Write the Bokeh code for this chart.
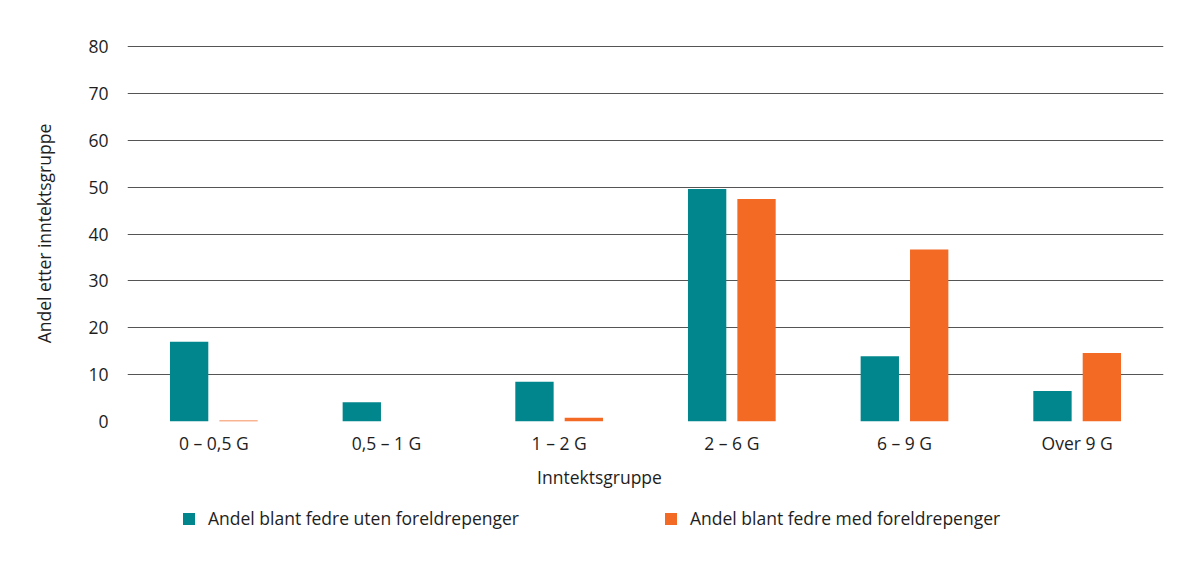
from bokeh.plotting import figure
from bokeh.models import ColumnDataSource, FactorRange, Legend, LegendItem, Label, FixedTicker, Range1d
from bokeh.layouts import column
from bokeh.transform import dodge
from bokeh.embed import file_html
from bokeh.resources import INLINE

categories = ["0 – 0,5 G", "0,5 – 1 G", "1 – 2 G", "2 – 6 G", "6 – 9 G", "Over 9 G"]
uten = [17.0, 4.1, 8.5, 49.6, 13.9, 6.5]
med = [0.2, 0.0, 0.8, 47.5, 36.7, 14.6]
series_names = ["Andel blant fedre uten foreldrepenger", "Andel blant fedre med foreldrepenger"]
y_ticks = [0, 10, 20, 30, 40, 50, 60, 70, 80]
x_title = "Inntektsgruppe"
y_title = "Andel etter inntektsgruppe"

TEAL = "#00868C"
ORANGE = "#F26A24"
FONT = "Open Sans"
TXT = "#1e1e1e"
FS = "17.5px"
W = 1198
H1 = 465
H2 = 568 - H1
FL, FR = 127, 1163  # frame edges (px)

src = ColumnDataSource(dict(cat=categories, uten=uten, med=med))

p = figure(width=W, height=H1, x_range=FactorRange(*categories, range_padding=0),
           y_range=Range1d(0, 80.25), output_backend="svg", toolbar_location=None,
           min_border_left=FL, min_border_right=W - FR, min_border_top=45, min_border_bottom=H1 - 421)
p.outline_line_color = None

r1 = p.vbar(x=dodge("cat", -0.143, range=p.x_range), top="uten", width=0.222, source=src,
            fill_color=TEAL, line_color=None)
r2 = p.vbar(x=dodge("cat", 0.143, range=p.x_range), top="med", width=0.222, source=src,
            fill_color=ORANGE, line_color=None)

p.yaxis.ticker = FixedTicker(ticks=y_ticks)
p.yaxis.axis_line_color = None
p.yaxis.major_tick_line_color = None
p.yaxis.minor_tick_line_color = None
p.yaxis.major_label_standoff = 13
p.yaxis.major_label_text_font = FONT
p.yaxis.major_label_text_font_size = FS
p.yaxis.major_label_text_color = TXT
p.yaxis.axis_label = y_title
p.yaxis.axis_label_text_font = FONT
p.yaxis.axis_label_text_font_size = FS
p.yaxis.axis_label_text_font_style = "normal"
p.yaxis.axis_label_text_color = TXT
p.yaxis.axis_label_standoff = 29

p.xaxis.axis_line_color = None
p.xaxis.major_tick_line_color = None
p.xaxis.minor_tick_line_color = None
p.xaxis.major_label_standoff = 3
p.xaxis.major_label_text_font = FONT
p.xaxis.major_label_text_font_size = FS
p.xaxis.major_label_text_color = TXT

p.xgrid.grid_line_color = None
p.ygrid.grid_line_color = "#555555"
p.ygrid.grid_line_width = 1

# lower panel: axis title and legend (frame aligned with the chart frame)
p2 = figure(width=W, height=H2, x_range=Range1d(FL, FR), y_range=Range1d(0, H2),
            output_backend="svg", toolbar_location=None, x_axis_location=None,
            y_axis_location=None, min_border=0, min_border_left=FL, min_border_right=W - FR)
p2.outline_line_color = None
p2.grid.visible = False

# legend key renderers (no visible data)
key_src = ColumnDataSource(dict(x=[float("nan")], top=[float("nan")]))
d1 = p2.vbar(x="x", top="top", width=1, source=key_src, fill_color=TEAL, line_color=None)
d2 = p2.vbar(x="x", top="top", width=1, source=key_src, fill_color=ORANGE, line_color=None)

p2.add_layout(Label(x=599, y=92, text=x_title, text_font=FONT, text_font_size=FS,
                    text_color=TXT, text_align="center", text_baseline="middle"))

for rend, name, xloc in [(d1, series_names[0], 181 - FL), (d2, series_names[1], 663 - FL)]:
    lg = Legend(items=[LegendItem(label=name, renderers=[rend])], location=(xloc, 38),
                orientation="horizontal", glyph_width=15, glyph_height=15, label_height=15,
                label_standoff=12, padding=0, margin=0, border_line_color=None,
                background_fill_alpha=0, label_text_font=FONT, label_text_font_size=FS,
                label_text_color=TXT)
    p2.add_layout(lg)

layout = column(p, p2, spacing=0)
open("out.html", "w").write(file_html(layout, INLINE))
